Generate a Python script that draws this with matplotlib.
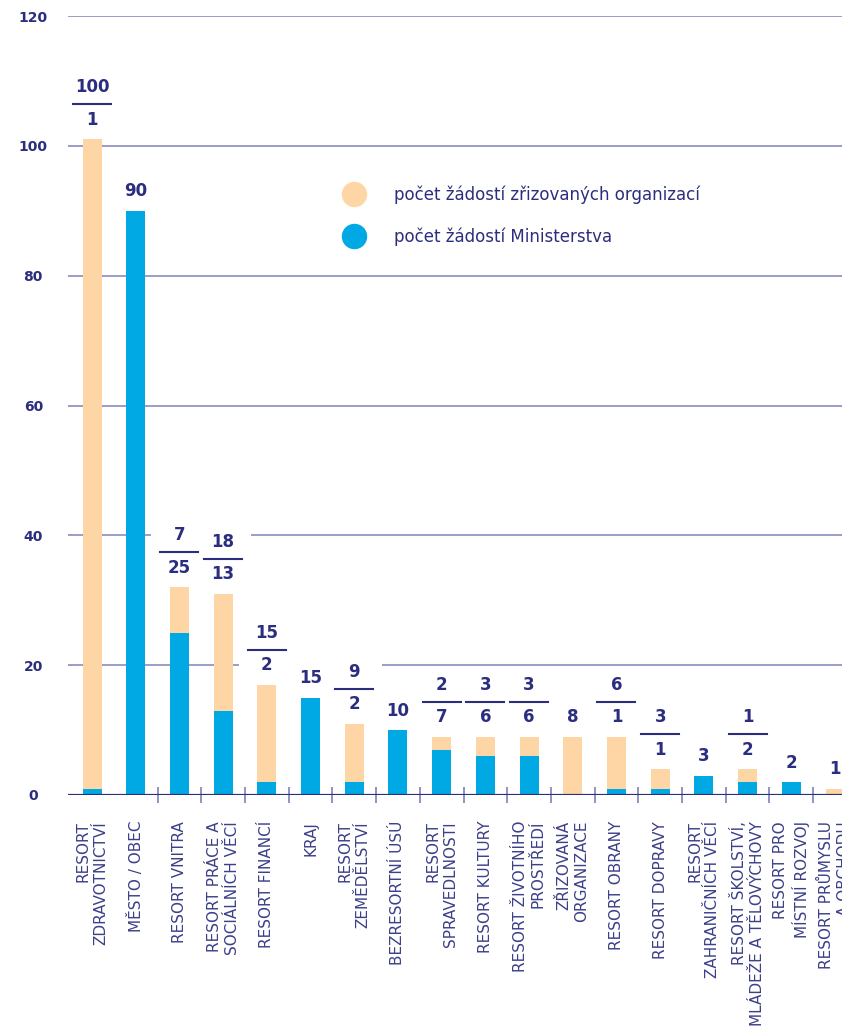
import matplotlib.pyplot as plt
from matplotlib.lines import Line2D
from matplotlib.patches import Rectangle
from matplotlib.transforms import ScaledTranslation

categories = [
    'RESORT\nZDRAVOTNICTVÍ', 'MĚSTO / OBEC', 'RESORT VNITRA',
    'RESORT PRÁCE A\nSOCIÁLNÍCH VĚCÍ', 'RESORT FINANCÍ', 'KRAJ',
    'RESORT\nZEMĚDĚLSTVÍ', 'BEZRESORTNÍ ÚSÚ', 'RESORT\nSPRAVEDLNOSTI',
    'RESORT KULTURY', 'RESORT ŽIVOTNÍHO\nPROSTŘEDÍ', 'ZŘIZOVANÁ\nORGANIZACE',
    'RESORT OBRANY', 'RESORT DOPRAVY', 'RESORT\nZAHRANIČNÍCH VĚCÍ',
    'RESORT ŠKOLSTVÍ,\nMLÁDEŽE A TĚLOVÝCHOVY', 'RESORT PRO\nMÍSTNÍ ROZVOJ',
    'RESORT PRŮMYSLU\nA OBCHODU',
]
# bar heights as drawn
ministerstvo = [1, 90, 25, 13, 2, 15, 2, 10, 7, 6, 6, 0, 1, 1, 3, 2, 2, 0]
organizace = [100, 0, 7, 18, 15, 0, 9, 0, 2, 3, 3, 9, 8, 3, 0, 2, 0, 1]
# numbers printed above the bars (top / bottom of the fraction)
label_top = ['100', '', '7', '18', '15', '', '9', '', '2', '3', '3', '', '6', '3', '', '1', '', '']
label_bottom = ['1', '90', '25', '13', '2', '15', '2', '10', '7', '6', '6', '8', '1', '1', '3', '2', '2', '1']
yticks = [0, 20, 40, 60, 80, 100, 120]

navy = '#2b2e7e'
grid_col = '#7f82b6'
blue = '#00a9e3'
peach = '#fed6a6'

fig = plt.figure(figsize=(8.42, 10.33), dpi=100)
ax = fig.add_axes([68 / 842, 238 / 1033, 774 / 842, 779 / 1033])

x = list(range(len(categories)))

for v in yticks[1:]:
    ax.axhline(v, color=grid_col, lw=1.1, zorder=0)
ax.axhline(0, color=navy, lw=2.3, zorder=4)

ax.bar(x, ministerstvo, width=0.435, color=blue, zorder=2)
ax.bar(x, organizace, width=0.435, bottom=ministerstvo, color=peach, zorder=2)

# labels above bars, laid out in inches from the top of each bar
for i in x:
    total = ministerstvo[i] + organizace[i]
    tr = fig.dpi_scale_trans + ScaledTranslation(i, total, ax.transData)
    double = label_top[i] != ''
    h = 0.62 if double else 0.34
    ax.add_patch(Rectangle((-0.28, 0.02), 0.56, h, transform=tr,
                           facecolor='white', edgecolor='none', zorder=1))
    ax.text(0, 0.145, label_bottom[i], transform=tr, ha='center', va='baseline',
            fontsize=12, fontweight='bold', color=navy, zorder=3)
    if double:
        ax.add_line(Line2D([-0.19, 0.19], [0.35, 0.35], transform=tr,
                           color=navy, lw=1.5, zorder=3))
        ax.text(0, 0.47, label_top[i], transform=tr, ha='center', va='baseline',
                fontsize=12, fontweight='bold', color=navy, zorder=3)

for s in ax.spines.values():
    s.set_visible(False)

ax.set_xticks(x)
ax.set_xticklabels(categories, rotation=90, ha='center', va='top',
                   multialignment='right', fontsize=11, linespacing=1.25,
                   color='#3c4089')
ax.tick_params(axis='x', which='major', length=0, pad=18.7)
ax.set_xticks([i + 0.5 for i in x[1:-1]], minor=True)
ax.tick_params(axis='x', which='minor', direction='inout', length=11,
               width=1.2, color=grid_col)

ax.set_yticks(yticks)
ax.set_yticklabels([str(v) for v in yticks], fontsize=10, fontweight='bold', color=navy)
ax.tick_params(axis='y', length=0, pad=25)
for lab in ax.get_yticklabels():
    lab.set_ha('center')

handles = [
    Line2D([], [], marker='o', ls='', markersize=17.3, color=peach,
           label='počet žádostí zřizovaných organizací'),
    Line2D([], [], marker='o', ls='', markersize=17.3, color=blue,
           label='počet žádostí Ministerstva'),
]
ax.legend(handles=handles, loc='upper left', bbox_to_anchor=(342 / 842, 1 - 185 / 1033),
          bbox_transform=fig.transFigure, frameon=False, fontsize=12,
          labelcolor=navy, handlelength=1.44, handletextpad=1.68,
          labelspacing=1.45, borderpad=0, borderaxespad=0)

ax.set_xlim(-0.55, 17.16)
ax.set_ylim(0, 120)

fig.savefig('out.png', dpi=100)
